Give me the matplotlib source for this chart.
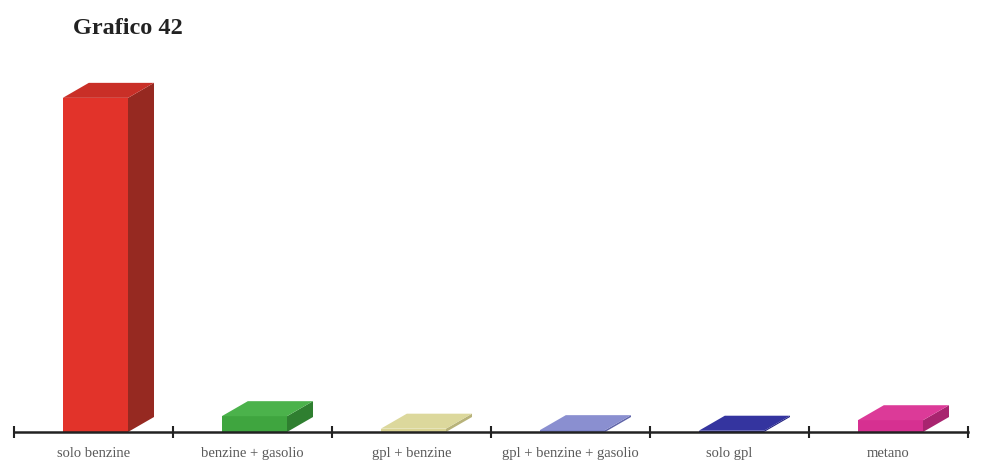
import matplotlib.pyplot as plt
from matplotlib.patches import Polygon

# data (share, %)
categories = ["solo benzine", "benzine + gasolio", "gpl + benzine",
              "gpl + benzine + gasolio", "solo gpl", "metano"]
values = [90.8, 4.3, 0.9, 0.5, 0.35, 3.2]

front_colors = ["#e2332a", "#3fa53f", "#d9d393", "#7c82c9", "#2c2c98", "#d63091"]
top_colors = ["#c92f27", "#4bb24b", "#dcd89c", "#8a8fd0", "#34349f", "#dc3a98"]
side_colors = ["#962921", "#2f7f30", "#b8b37a", "#5f64a8", "#222280", "#a8246f"]

fig = plt.figure(figsize=(9.83, 4.63), dpi=100)
W, H = 983, 463
ax = fig.add_axes([14 / W, (H - 432) / H, 954 / W, (432 - 64) / H])

x = list(range(len(categories)))
bw = 0.41
ax.set_xlim(-0.5, len(categories) - 0.5)
ax.set_ylim(0, 100)

# depth of the 3d look, 26 px right and 15 px up, converted to data units
dx = 26 / (954 / len(categories))
dy = 15 / (432 - 64) * 100

ax.bar([xi + 0.012 for xi in x], values, width=bw, color=front_colors, zorder=2)
for xi, v, ct, cs in zip(x, values, top_colors, side_colors):
    x0, x1 = xi + 0.012 - bw / 2, xi + 0.012 + bw / 2
    top = Polygon([(x0, v), (x1, v), (x1 + dx, v + dy), (x0 + dx, v + dy)],
                  closed=True, facecolor=ct, edgecolor="none", zorder=2)
    side = Polygon([(x1, 0), (x1 + dx, dy), (x1 + dx, v + dy), (x1, v)],
                   closed=True, facecolor=cs, edgecolor="none", zorder=1)
    ax.add_patch(side)
    ax.add_patch(top)

for s in ["top", "left", "right"]:
    ax.spines[s].set_visible(False)
ax.spines["bottom"].set_linewidth(1.8)
ax.spines["bottom"].set_color("#222222")
ax.spines["bottom"].set_zorder(3)

ax.set_yticks([])
ax.set_xticks([i - 0.5 for i in range(len(categories) + 1)])
ax.set_xticklabels([])
ax.tick_params(axis="x", which="major", direction="inout", length=9,
               width=1.5, color="#222222")
ax.set_xticks(x, minor=True)
ax.set_xticklabels(categories, minor=True, family="Liberation Serif",
                   fontsize=10.5, color="#5a5a5a")
ax.tick_params(axis="x", which="minor", length=0, pad=11)

fig.text(73 / W, 1 - 28 / H, "Grafico 42", family="Liberation Serif",
         fontweight="bold", fontsize=17.5, va="center", ha="left", color="#222222")

fig.savefig("out.png", dpi=100)
